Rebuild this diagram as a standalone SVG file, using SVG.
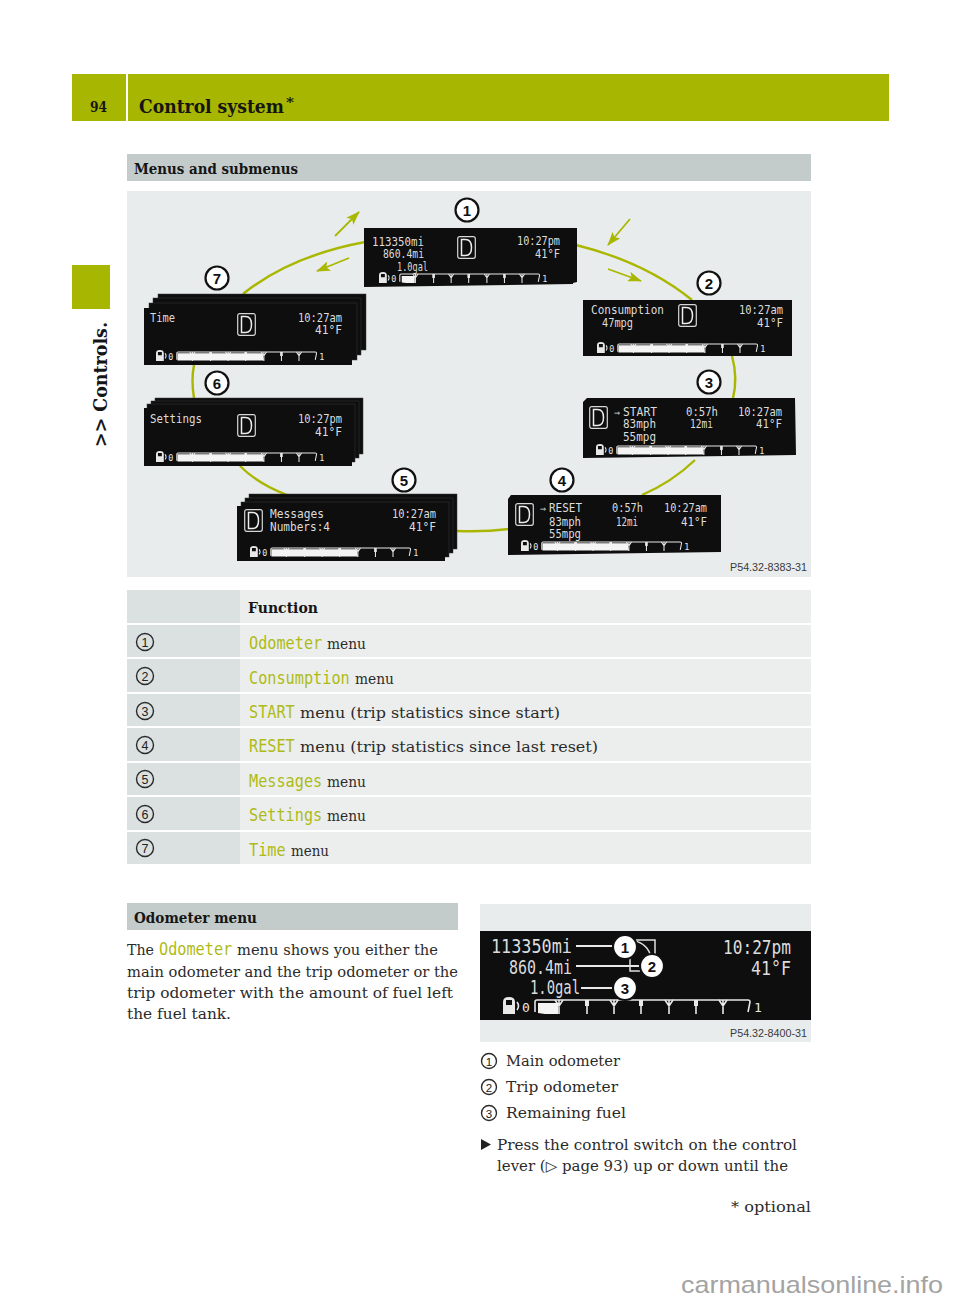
<svg xmlns="http://www.w3.org/2000/svg" width="960" height="1302" viewBox="0 0 960 1302">
<style>
text{white-space:pre}
.s{font-family:"DejaVu Serif","Liberation Serif",serif;font-size:14.5px;fill:#2b2b2b}
.b{font-family:"DejaVu Serif","Liberation Serif",serif;font-size:15px;font-weight:700;fill:#151515}
.g{font-family:"DejaVu Sans Mono","Liberation Mono",monospace;font-size:18px;fill:#aebb16}
.d{font-family:"DejaVu Sans Mono","Liberation Mono",monospace;font-size:12px;fill:#dcdcdc}
.p{font-family:"Liberation Sans",Arial,sans-serif;font-size:10.5px;fill:#3a3a3a}
.n{font-family:"Liberation Sans",Arial,sans-serif;font-size:15px;font-weight:700;fill:#111;text-anchor:middle}
.m{font-family:"Liberation Sans",Arial,sans-serif;font-size:12.5px;fill:#222;text-anchor:middle}
.bd{fill:#fff;stroke:#111;stroke-width:2.2}
.c{fill:none;stroke:#2b2b2b;stroke-width:1.4}
.scr{fill:#0e0e0e}
.lay{fill:#0e0e0e;stroke:#3a3a3a;stroke-width:.5}
.con{fill:none;stroke:#a9b700;stroke-width:2.4}
.arr{fill:none;stroke:#a9b700;stroke-width:1.8;marker-end:url(#ah)}
.t1{fill:#dbe0e0}.t2{fill:#ebeeed}
.tk{fill:none;stroke:#e8e8e8;stroke-width:1.6}
</style>
<defs>
<marker id="ah" markerWidth="14" markerHeight="10" refX="13" refY="5" orient="auto" markerUnits="userSpaceOnUse"><path d="M0 0L14 5L0 10L3 5Z" fill="#a9b700"/></marker>
<g id="gauge">
<path d="M0 14V2Q0-3 6-3Q12-3 12 2V14ZM3 5H9V0H3Z" fill="#e8e8e8" fill-rule="evenodd"/>
<path d="M14 2Q17 6 14 10" class="tk"/>
<path d="M32 12V2Q32 0 34 0H245Q247 0 247 2L245 12" class="tk"/>
<path d="M56 0V14M52 0L56 6L60 0M84 0V14M111 0V14M107 0L111 6L115 0M138 0V14M166 0V14M162 0L166 6L170 0M193 0V14M220 0V14M216 0L220 6L224 0" class="tk"/>
<path d="M82 0H86V6H82ZM136 0H140V6H136ZM191 0H195V6H191Z" fill="#e8e8e8"/>
<text x="19" y="12" font-family="DejaVu Sans Mono,monospace" font-size="13" fill="#e8e8e8">0</text>
<text x="251" y="12" font-family="DejaVu Sans Mono,monospace" font-size="13" fill="#e8e8e8">1</text>
</g>
<g id="full"><use href="#gauge"/><path d="M33 2H56L57 13H33ZM56 2H84V13H56ZM84 2H111V13H84ZM111 2H138V13H111ZM138 2H164L166 13H138Z" fill="#f4f4f4"/></g>
<g id="low"><use href="#gauge"/><path d="M35 3H55V14H42L35 13Z" fill="#f4f4f4"/></g>
<g id="dicon"><rect x="0.7" y="0.7" width="17.6" height="21.6" rx="2" fill="none" stroke="#d8d8d8" stroke-width="1.2"/><path d="M4.500 3.500H8.500Q14.500 3.500 14.500 11.500Q14.500 19.500 8.500 19.500H4.500Z" fill="none" stroke="#ededed" stroke-width="1.500"/></g>
</defs>
<rect width="960" height="1302" fill="#fff"/>
<g id="page-header">
<rect x="72" y="74" width="54" height="47" fill="#a7b600"/>
<rect x="128" y="74" width="761" height="47" fill="#a7b600"/>
<rect x="72" y="265" width="38" height="44" fill="#a7b600"/>
<text class="b" x="90" y="112" textLength="17" lengthAdjust="spacingAndGlyphs">94</text>
<text class="b" x="139" y="113" style="font-size:18px" textLength="145" lengthAdjust="spacingAndGlyphs">Control system</text>
<text class="b" x="286" y="107" style="font-size:13px" textLength="8" lengthAdjust="spacingAndGlyphs">*</text>
<text class="b" transform="translate(107,447) rotate(-90)" style="font-size:19px" textLength="125" lengthAdjust="spacingAndGlyphs">&gt;&gt; Controls.</text>
</g>
<g id="section-menus">
<rect x="127" y="154" width="684" height="27" fill="#c3cccb"/>
<text class="b" x="134" y="174" textLength="164" lengthAdjust="spacingAndGlyphs">Menus and submenus</text>
</g>
<rect id="figure-bg" x="127" y="191" width="684" height="386" fill="#e9ecec"/>
<g id="connectors">
<path class="con" d="M365 242Q290 256 243 294"/>
<path class="con" d="M576 245Q645 262 692 300"/>
<path class="con" d="M732 356Q738 378 733 398"/>
<path class="con" d="M695 460Q672 482 642 495"/>
<path class="con" d="M457 531Q485 532 509 529"/>
<path class="con" d="M240 466Q258 484 287 495"/>
<path class="con" d="M194 365Q191 380 194 398"/>
<path class="arr" d="M335 236L359 212"/>
<path class="arr" d="M349 258L317 271"/>
<path class="arr" d="M630 219L608 245"/>
<path class="arr" d="M608 269L641 281"/>
</g>
<g id="panel-1">
<path class="scr" d="M364 228H577V282L573 283V284L364 287Z"/>
<text class="d" x="372" y="246" textLength="52" lengthAdjust="spacingAndGlyphs">113350mi</text>
<text class="d" x="383" y="258" textLength="41" lengthAdjust="spacingAndGlyphs">860.4mi</text>
<text class="d" x="397" y="271" textLength="31" lengthAdjust="spacingAndGlyphs">1.0gal</text>
<use href="#dicon" x="457" y="236"/>
<text class="d" x="517" y="245" textLength="43" lengthAdjust="spacingAndGlyphs">10:27pm</text>
<text class="d" x="535" y="258" textLength="25" lengthAdjust="spacingAndGlyphs">41°F</text>
<use href="#low" transform="translate(379,274) scale(.65)"/>
<circle class="bd" cx="467" cy="210" r="11.5"/><text class="n" x="467" y="215.500">1</text>
</g>
<g id="panel-2">
<rect class="scr" x="583" y="300" width="209" height="56"/>
<text class="d" x="591" y="314" textLength="73" lengthAdjust="spacingAndGlyphs">Consumption</text>
<text class="d" x="602" y="327" textLength="31" lengthAdjust="spacingAndGlyphs">47mpg</text>
<use href="#dicon" x="678" y="304"/>
<text class="d" x="739" y="314" textLength="44" lengthAdjust="spacingAndGlyphs">10:27am</text>
<text class="d" x="757" y="327" textLength="26" lengthAdjust="spacingAndGlyphs">41°F</text>
<use href="#full" transform="translate(597,344) scale(.65)"/>
<circle class="bd" cx="709" cy="283" r="11.5"/><text class="n" x="709" y="288.500">2</text>
</g>
<g id="panel-3">
<path class="scr" d="M587 398H795L796 455L583 458V402Z"/>
<use href="#dicon" x="589" y="406"/>
<text class="d" x="614" y="416" style="font-size:10px">⇒</text>
<text class="d" x="623" y="416" textLength="34" lengthAdjust="spacingAndGlyphs">START</text>
<text class="d" x="623" y="428" textLength="33" lengthAdjust="spacingAndGlyphs">83mph</text>
<text class="d" x="623" y="441" textLength="33" lengthAdjust="spacingAndGlyphs">55mpg</text>
<text class="d" x="686" y="416" textLength="32" lengthAdjust="spacingAndGlyphs">0:57h</text>
<text class="d" x="690" y="428" textLength="23" lengthAdjust="spacingAndGlyphs">12mi</text>
<text class="d" x="738" y="416" textLength="44" lengthAdjust="spacingAndGlyphs">10:27am</text>
<text class="d" x="756" y="428" textLength="26" lengthAdjust="spacingAndGlyphs">41°F</text>
<use href="#full" transform="translate(596,446) scale(.65)"/>
<circle class="bd" cx="709" cy="382" r="11.5"/><text class="n" x="709" y="387.500">3</text>
</g>
<g id="panel-4">
<path class="scr" d="M511 495H721V552L508 555V499Z"/>
<use href="#dicon" x="515" y="503"/>
<text class="d" x="540" y="512" style="font-size:10px">⇒</text>
<text class="d" x="549" y="512" textLength="33" lengthAdjust="spacingAndGlyphs">RESET</text>
<text class="d" x="549" y="526" textLength="32" lengthAdjust="spacingAndGlyphs">83mph</text>
<text class="d" x="549" y="538" textLength="32" lengthAdjust="spacingAndGlyphs">55mpg</text>
<text class="d" x="612" y="512" textLength="31" lengthAdjust="spacingAndGlyphs">0:57h</text>
<text class="d" x="616" y="526" textLength="22" lengthAdjust="spacingAndGlyphs">12mi</text>
<text class="d" x="664" y="512" textLength="43" lengthAdjust="spacingAndGlyphs">10:27am</text>
<text class="d" x="681" y="526" textLength="26" lengthAdjust="spacingAndGlyphs">41°F</text>
<use href="#full" transform="translate(521,542) scale(.65)"/>
<circle class="bd" cx="562" cy="480" r="11.5"/><text class="n" x="562" y="485.500">4</text>
</g>
<g id="panel-5">
<rect class="lay" x="249" y="494" width="208" height="55"/>
<rect class="lay" x="245" y="498" width="208" height="55"/>
<rect class="lay" x="241" y="502" width="208" height="55"/>
<rect class="scr" x="237" y="506" width="208" height="55"/>
<use href="#dicon" x="244" y="509"/>
<text class="d" x="270" y="518" textLength="54" lengthAdjust="spacingAndGlyphs">Messages</text>
<text class="d" x="270" y="531" textLength="60" lengthAdjust="spacingAndGlyphs">Numbers:4</text>
<text class="d" x="392" y="518" textLength="44" lengthAdjust="spacingAndGlyphs">10:27am</text>
<text class="d" x="409" y="531" textLength="27" lengthAdjust="spacingAndGlyphs">41°F</text>
<use href="#full" transform="translate(250,548) scale(.65)"/>
<circle class="bd" cx="404" cy="480" r="11.5"/><text class="n" x="404" y="485.500">5</text>
</g>
<g id="panel-6">
<rect class="lay" x="155" y="398" width="208" height="56"/>
<rect class="lay" x="151" y="401" width="208" height="57"/>
<rect class="lay" x="147" y="404" width="208" height="58"/>
<rect class="scr" x="144" y="408" width="208" height="58"/>
<use href="#dicon" x="237" y="414"/>
<text class="d" x="150" y="423" textLength="52" lengthAdjust="spacingAndGlyphs">Settings</text>
<text class="d" x="298" y="423" textLength="44" lengthAdjust="spacingAndGlyphs">10:27pm</text>
<text class="d" x="315" y="436" textLength="27" lengthAdjust="spacingAndGlyphs">41°F</text>
<use href="#full" transform="translate(156,453) scale(.65)"/>
<circle class="bd" cx="217" cy="383" r="11.5"/><text class="n" x="217" y="388.500">6</text>
</g>
<g id="panel-7">
<rect class="lay" x="158" y="294" width="208" height="56"/>
<rect class="lay" x="153" y="298" width="208" height="57"/>
<rect class="lay" x="149" y="303" width="208" height="57"/>
<rect class="scr" x="144" y="308" width="208" height="57"/>
<use href="#dicon" x="237" y="313"/>
<text class="d" x="150" y="322" textLength="25" lengthAdjust="spacingAndGlyphs">Time</text>
<text class="d" x="298" y="322" textLength="44" lengthAdjust="spacingAndGlyphs">10:27am</text>
<text class="d" x="315" y="334" textLength="27" lengthAdjust="spacingAndGlyphs">41°F</text>
<use href="#full" transform="translate(156,352) scale(.65)"/>
<circle class="bd" cx="217" cy="278" r="11.5"/><text class="n" x="217" y="283.500">7</text>
</g>
<text class="p" x="730" y="571" textLength="77" lengthAdjust="spacingAndGlyphs">P54.32-8383-31</text>
<g id="function-table">
<rect class="t1" x="127" y="590" width="113" height="33"/><rect class="t2" x="240" y="590" width="571" height="33"/>
<rect class="t1" x="127" y="625" width="113" height="32"/><rect class="t2" x="240" y="625" width="571" height="32"/>
<rect class="t1" x="127" y="659" width="113" height="33"/><rect class="t2" x="240" y="659" width="571" height="33"/>
<rect class="t1" x="127" y="694" width="113" height="32"/><rect class="t2" x="240" y="694" width="571" height="32"/>
<rect class="t1" x="127" y="728" width="113" height="33"/><rect class="t2" x="240" y="728" width="571" height="33"/>
<rect class="t1" x="127" y="763" width="113" height="32"/><rect class="t2" x="240" y="763" width="571" height="32"/>
<rect class="t1" x="127" y="797" width="113" height="33"/><rect class="t2" x="240" y="797" width="571" height="33"/>
<rect class="t1" x="127" y="832" width="113" height="32"/><rect class="t2" x="240" y="832" width="571" height="32"/>
<text class="b" x="248" y="613" textLength="70" lengthAdjust="spacingAndGlyphs">Function</text>
<circle class="c" cx="145" cy="642" r="8.5"/><text class="m" x="145" y="646.500">1</text>
<circle class="c" cx="145" cy="676" r="8.5"/><text class="m" x="145" y="680.500">2</text>
<circle class="c" cx="145" cy="711" r="8.5"/><text class="m" x="145" y="715.500">3</text>
<circle class="c" cx="145" cy="745" r="8.5"/><text class="m" x="145" y="749.500">4</text>
<circle class="c" cx="145" cy="779" r="8.5"/><text class="m" x="145" y="783.500">5</text>
<circle class="c" cx="145" cy="814" r="8.5"/><text class="m" x="145" y="818.500">6</text>
<circle class="c" cx="145" cy="848" r="8.5"/><text class="m" x="145" y="852.500">7</text>
<text class="g" transform="translate(249,649) scale(.845,1)">Odometer</text><text class="s" x="327" y="649" textLength="39" lengthAdjust="spacingAndGlyphs">menu</text>
<text class="g" transform="translate(249,684) scale(.845,1)">Consumption</text><text class="s" x="355" y="684" textLength="39" lengthAdjust="spacingAndGlyphs">menu</text>
<text class="g" transform="translate(249,718) scale(.845,1)">START</text><text class="s" x="300" y="718" textLength="260" lengthAdjust="spacingAndGlyphs">menu (trip statistics since start)</text>
<text class="g" transform="translate(249,752) scale(.845,1)">RESET</text><text class="s" x="300" y="752" textLength="298" lengthAdjust="spacingAndGlyphs">menu (trip statistics since last reset)</text>
<text class="g" transform="translate(249,787) scale(.845,1)">Messages</text><text class="s" x="327" y="787" textLength="39" lengthAdjust="spacingAndGlyphs">menu</text>
<text class="g" transform="translate(249,821) scale(.845,1)">Settings</text><text class="s" x="327" y="821" textLength="39" lengthAdjust="spacingAndGlyphs">menu</text>
<text class="g" transform="translate(249,856) scale(.845,1)">Time</text><text class="s" x="291" y="856" textLength="38" lengthAdjust="spacingAndGlyphs">menu</text>
</g>
<g id="section-odometer">
<rect x="127" y="903" width="331" height="27" fill="#c3cccb"/>
<text class="b" x="134" y="923" textLength="123" lengthAdjust="spacingAndGlyphs">Odometer menu</text>
<text class="s" x="127" y="955" textLength="27" lengthAdjust="spacingAndGlyphs">The</text>
<text class="g" transform="translate(159,955) scale(.845,1)">Odometer</text>
<text class="s" x="237" y="955" textLength="201" lengthAdjust="spacingAndGlyphs">menu shows you either the</text>
<text class="s" x="127" y="977" textLength="331" lengthAdjust="spacingAndGlyphs">main odometer and the trip odometer or the</text>
<text class="s" x="127" y="998" textLength="326" lengthAdjust="spacingAndGlyphs">trip odometer with the amount of fuel left</text>
<text class="s" x="127" y="1019" textLength="104" lengthAdjust="spacingAndGlyphs">the fuel tank.</text>
</g>
<g id="odometer-figure">
<rect x="480" y="904" width="331" height="138" fill="#e9ecec"/>
<rect x="480" y="931" width="331" height="89" fill="#0e0e0e"/>
<text class="d" style="font-size:19px" x="491" y="953" textLength="81" lengthAdjust="spacingAndGlyphs">113350mi</text>
<text class="d" style="font-size:19px" x="509" y="974" textLength="63" lengthAdjust="spacingAndGlyphs">860.4mi</text>
<text class="d" style="font-size:19px" x="530" y="994" textLength="50" lengthAdjust="spacingAndGlyphs">1.0gal</text>
<text class="d" style="font-size:19px" x="723" y="954" textLength="68" lengthAdjust="spacingAndGlyphs">10:27pm</text>
<text class="d" style="font-size:19px" x="751" y="975" textLength="40" lengthAdjust="spacingAndGlyphs">41°F</text>
<path d="M576 946H612M576 966H640M581 988H612" stroke="#e8e8e8" stroke-width="2" fill="none"/>
<path d="M636 940H655V956M630 940Q646 942 650 954M630 957V971H640" stroke="#e0e0e0" stroke-width="1.5" fill="none"/>
<use href="#low" transform="translate(503,1000)"/>
<circle class="bd" cx="625" cy="947" r="12"/><text class="n" x="625" y="952.500">1</text>
<circle class="bd" cx="652" cy="966" r="12"/><text class="n" x="652" y="971.500">2</text>
<circle class="bd" cx="625" cy="988" r="12"/><text class="n" x="625" y="993.500">3</text>
<text class="p" x="730" y="1037" textLength="77" lengthAdjust="spacingAndGlyphs">P54.32-8400-31</text>
</g>
<g id="odometer-legend">
<circle class="c" cx="489" cy="1061" r="7.5"/><text class="m" x="489" y="1065.500" style="font-size:11.5px">1</text>
<circle class="c" cx="489" cy="1087" r="7.5"/><text class="m" x="489" y="1091.500" style="font-size:11.5px">2</text>
<circle class="c" cx="489" cy="1113" r="7.5"/><text class="m" x="489" y="1117.500" style="font-size:11.5px">3</text>
<text class="s" x="506" y="1066" textLength="114" lengthAdjust="spacingAndGlyphs">Main odometer</text>
<text class="s" x="506" y="1092" textLength="112" lengthAdjust="spacingAndGlyphs">Trip odometer</text>
<text class="s" x="506" y="1118" textLength="120" lengthAdjust="spacingAndGlyphs">Remaining fuel</text>
<path d="M481 1139L491 1144.500L481 1150Z" fill="#222"/>
<text class="s" x="497" y="1150" textLength="300" lengthAdjust="spacingAndGlyphs">Press the control switch on the control</text>
<text class="s" x="497" y="1171" textLength="291" lengthAdjust="spacingAndGlyphs">lever (▷ page 93) up or down until the</text>
<text class="s" x="731" y="1212" textLength="80" lengthAdjust="spacingAndGlyphs">* optional</text>
</g>
<text x="681" y="1293" font-family="Liberation Sans,Arial,sans-serif" font-size="24" fill="#a3a3a3" textLength="262" lengthAdjust="spacingAndGlyphs">carmanualsonline.info</text>
</svg>
